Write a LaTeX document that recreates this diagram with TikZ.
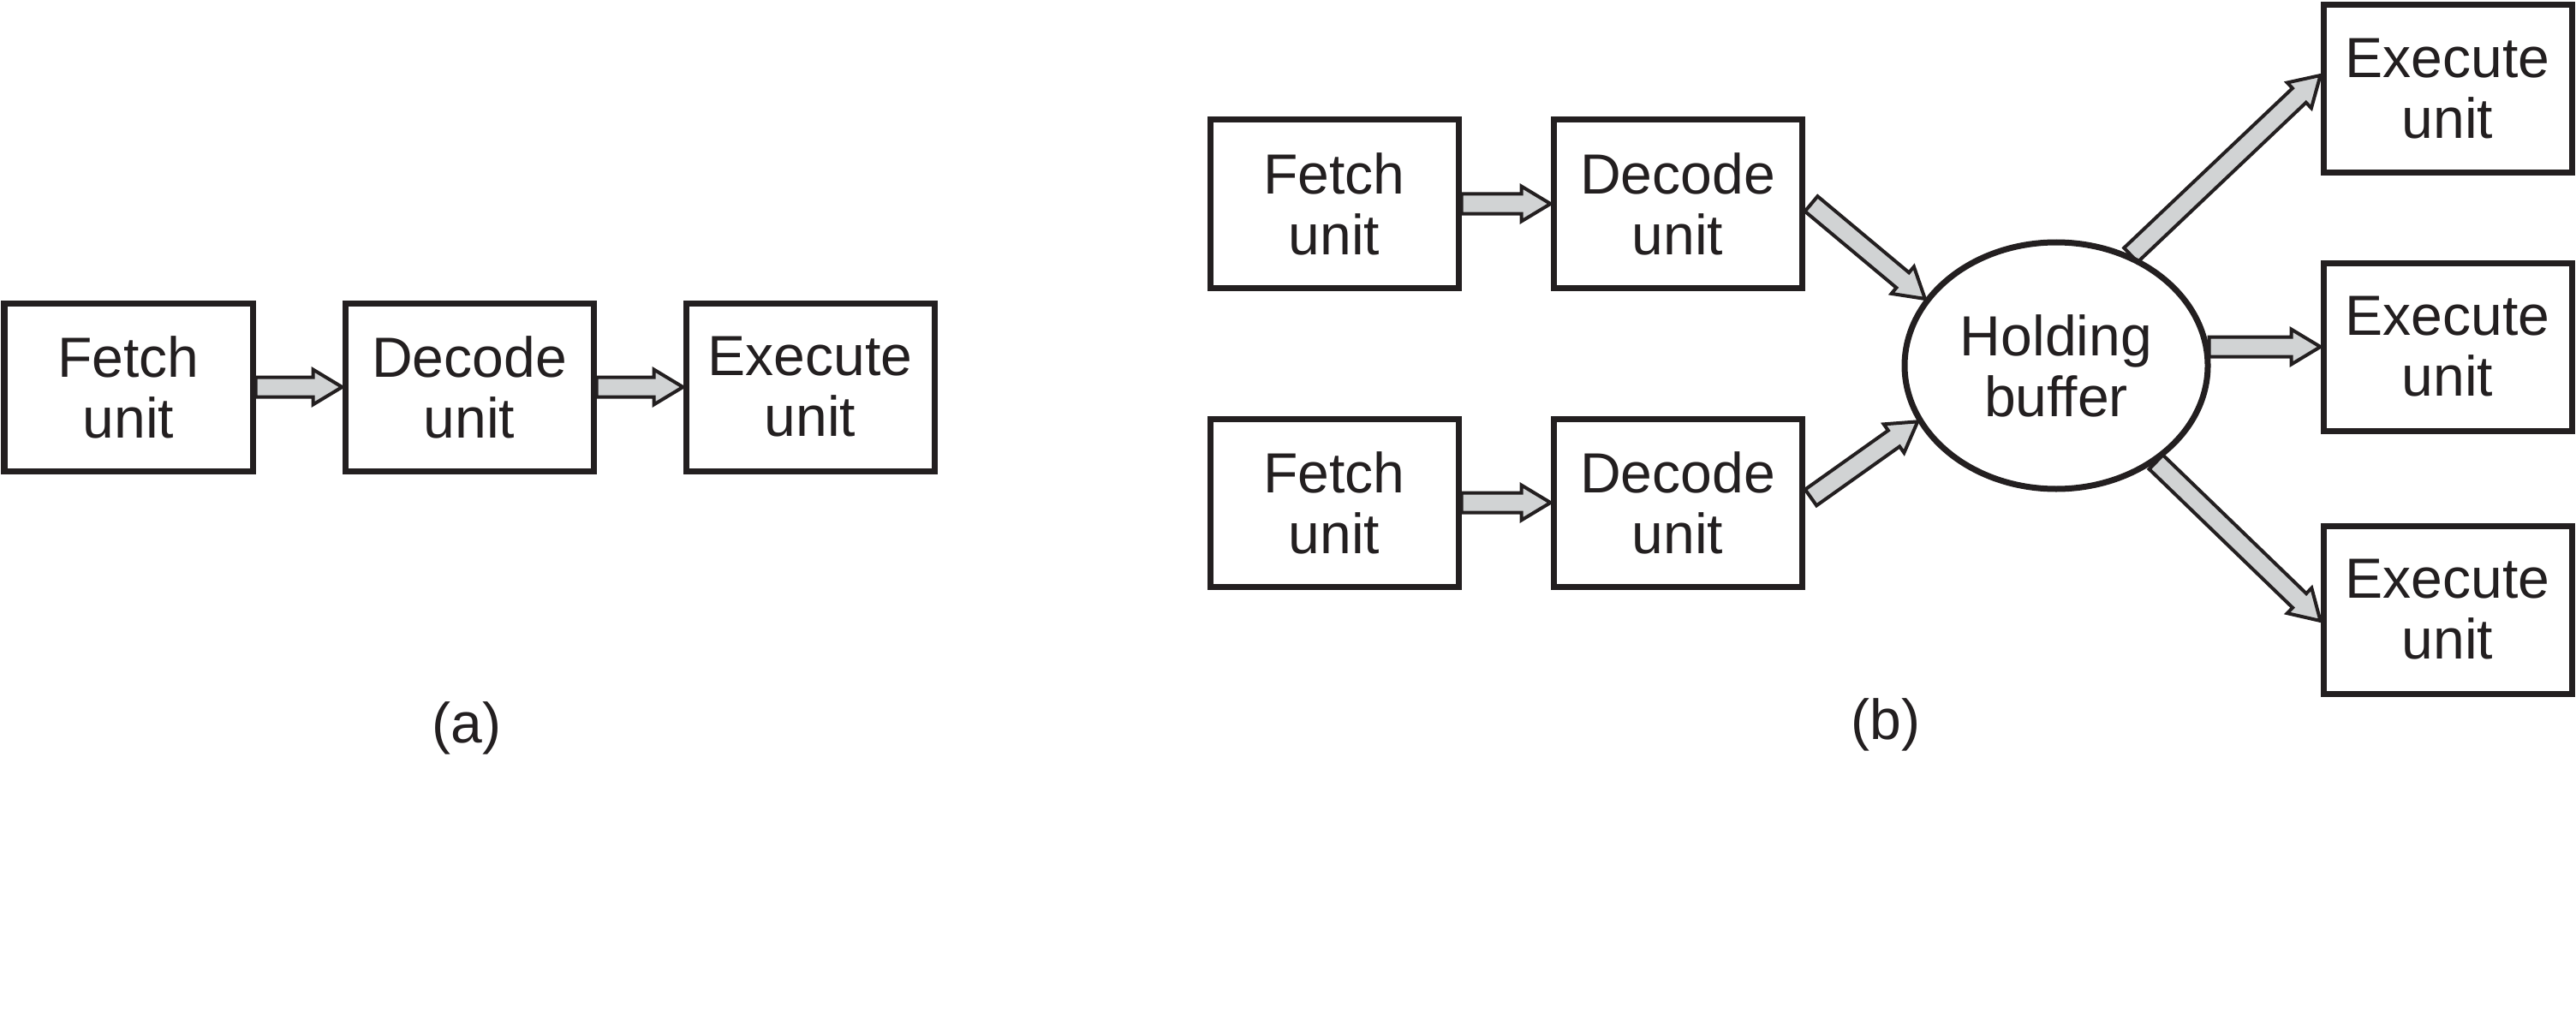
\documentclass[tikz,border=0pt]{standalone}
\usepackage{fontspec}
\setmainfont{Liberation Sans}
\usetikzlibrary{calc,shapes.geometric,backgrounds}
\definecolor{ink}{HTML}{231F20}
\definecolor{arrowgray}{HTML}{D1D3D4}
\newcommand\faW{0.205cm}
\newcommand\faw{0.115cm}
\newcommand\fah{0.34cm}
\newcommand\fatarr[2]{%
  \coordinate (fa-h) at ($(#2)!\fah!(#1)$);
  \filldraw[fatarrow] ($(#1)!\faw!90:(#2)$) -- ($(fa-h)!\faw!90:(#2)$) -- ($(fa-h)!\faW!90:(#2)$) -- (#2) -- ($(fa-h)!\faW!-90:(#2)$) -- ($(fa-h)!\faw!-90:(#2)$) -- ($(#1)!\faw!-90:(#2)$) -- cycle;}
\begin{document}
\begin{tikzpicture}[
  txt/.style={text=ink, font=\fontsize{18.8}{20.2}\selectfont},
  box/.style={txt, draw=ink, line width=0.07cm, fill=white, minimum width=2.90cm, minimum height=1.96cm, inner sep=0pt, align=center},
  buf/.style={txt, ellipse, draw=ink, line width=0.07cm, fill=white, minimum width=3.54cm, minimum height=2.88cm, inner sep=0pt, align=center},
  fatarrow/.style={fill=arrowgray, draw=ink, line width=0.04cm, line join=miter},
  caption/.style={txt, inner sep=0pt}
]
\useasboundingbox (0,0) rectangle (30.08,-12.04);

% (a)
\node[box] (fa) at (1.50,-4.52) {Fetch\\unit};
\node[box] (da) at (5.48,-4.52) {Decode\\unit};
\node[box] (ea) at (9.46,-4.52) {Execute\\unit};
\node[caption] (la) at (5.45,-8.50) {(a)};

% (b)
\node[box] (ft) at (15.58,-2.38) {Fetch\\unit};
\node[box] (dt) at (19.59,-2.38) {Decode\\unit};
\node[box] (fb) at (15.58,-5.87) {Fetch\\unit};
\node[box] (db) at (19.59,-5.87) {Decode\\unit};
\node[buf] (hb) at (24.01,-4.27) {Holding\\buffer};
\node[box] (e1) at (28.58,-1.04) {Execute\\unit};
\node[box] (e2) at (28.58,-4.05) {Execute\\unit};
\node[box] (e3) at (28.58,-7.12) {Execute\\unit};
\node[caption] (lb) at (22.02,-8.46) {(b)};

\coordinate (t1) at ($(dt.east)+(0.075,0)$);
\coordinate (t2) at ($(db.east)+(0.07,0.06)$);
\coordinate (p1) at ($(e1.west)+(0,0.16)$);
\coordinate (p3) at ($(e3.west)+(0,-0.13)$);

\begin{pgfonlayer}{background}
\fatarr{fa.east}{da.west}
\fatarr{da.east}{ea.west}
\fatarr{ft.east}{dt.west}
\fatarr{fb.east}{db.west}
\fatarr{t1}{hb.153}
\fatarr{t2}{hb.202}
\fatarr{hb.56}{p1}
\fatarr{hb.7}{e2.west}
\fatarr{hb.-44}{p3}
\end{pgfonlayer}
\end{tikzpicture}
\end{document}
